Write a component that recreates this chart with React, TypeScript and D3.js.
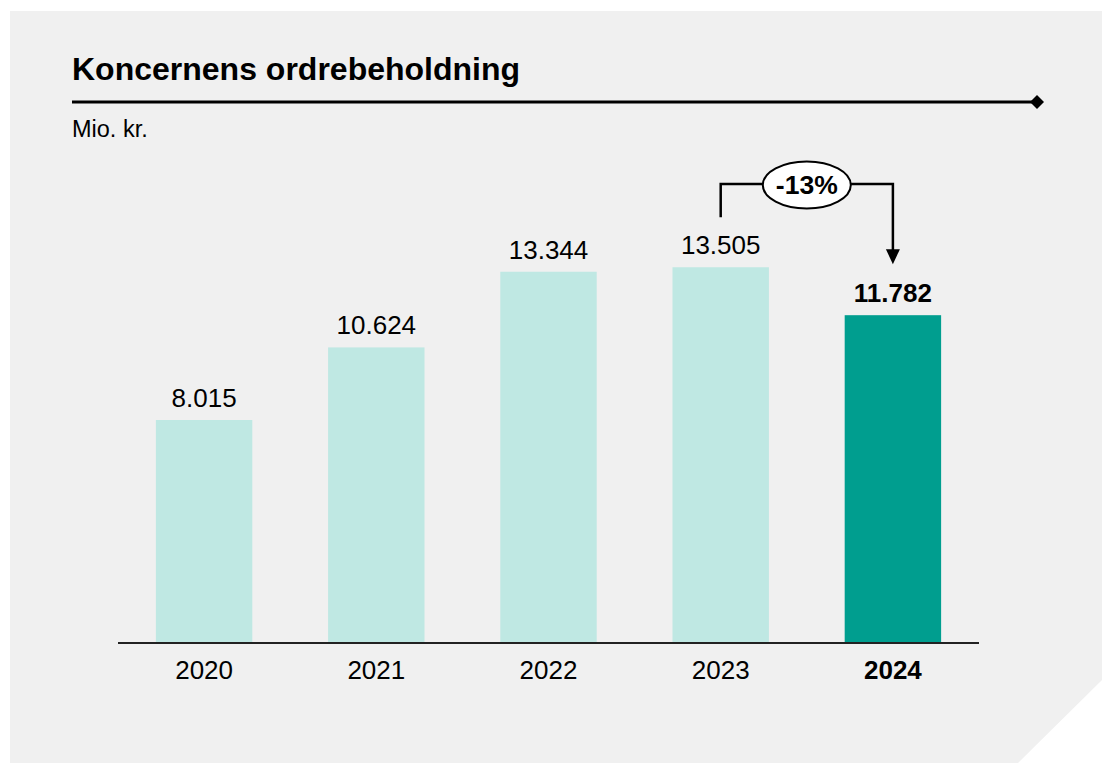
import React from 'react';
import * as d3 from 'd3';

const YEARS = ['2020', '2021', '2022', '2023', '2024'];
const VALUES = [8015, 10624, 13344, 13505, 11782];
const HIGHLIGHT = '2024';
const CHANGE_LABEL = '-13%';

const W = 1102;
const H = 763;
const FONT = 'Arial, "Liberation Sans", Helvetica, sans-serif';

const LIGHT = '#bfe8e3';
const DARK = '#009e8f';
const BG = '#f0f0f0';

// number format with dot as thousands separator (Danish style)
const fmt = (v: number) => d3.format(',')(v).replace(/,/g, '.');

export default function App() {
  const axisY = 643;
  const x = d3.scaleBand<string>()
    .domain(YEARS)
    .range([118, 979])
    .paddingInner(0.44)
    .paddingOuter(0.22);

  const y = d3.scaleLinear()
    .domain([0, 8015])
    .range([axisY, 420]);

  const bw = x.bandwidth();
  const cx = (yr: string) => (x(yr) as number) + bw / 2;

  // annotation between 2023 and 2024
  const fromX = cx('2023');
  const toX = cx('2024');
  const bracketY = 184;
  const ellX = (fromX + toX) / 2;
  const fromTop = y(VALUES[3]) - 50;
  const toTop = y(VALUES[4]) - 51;

  return (
    <div style={{ position: 'fixed', left: 0, top: 0 }}>
      <svg width={W} height={H} style={{ display: 'block', fontFamily: FONT }}>
        <rect width={W} height={H} fill="#ffffff" />
        <polygon
          points={`10,11 ${W},11 ${W},680 1018,${H} 10,${H}`}
          fill={BG}
        />

        <text x={72} y={80} fontSize={32} fontWeight={700} fill="#000">
          Koncernens ordrebeholdning
        </text>
        <line x1={72} x2={1034} y1={102} y2={102} stroke="#000" strokeWidth={3} />
        <path d="M1037,95 L1044,102 L1037,109 L1030,102 Z" fill="#000" />
        <text x={72} y={137} fontSize={23.5} fill="#000">Mio. kr.</text>

        {YEARS.map((yr, i) => {
          const v = VALUES[i];
          const hi = yr === HIGHLIGHT;
          return (
            <g key={yr}>
              <rect
                x={x(yr)}
                y={y(v)}
                width={bw}
                height={axisY - y(v)}
                fill={hi ? DARK : LIGHT}
              />
              <text
                x={cx(yr)}
                y={y(v) - 13}
                textAnchor="middle"
                fontSize={26}
                fontWeight={hi ? 700 : 400}
                fill="#000"
              >
                {fmt(v)}
              </text>
              <text
                x={cx(yr)}
                y={axisY + 36}
                textAnchor="middle"
                fontSize={26}
                fontWeight={hi ? 700 : 400}
                fill="#000"
              >
                {yr}
              </text>
            </g>
          );
        })}

        <line x1={118} x2={979} y1={axisY} y2={axisY} stroke="#222" strokeWidth={2} />

        {/* change annotation */}
        <path
          d={`M${fromX},${fromTop} V${bracketY} H${toX} V${toTop - 14}`}
          fill="none"
          stroke="#000"
          strokeWidth={2.5}
        />
        <path
          d={`M${toX - 7},${toTop - 15} L${toX + 7},${toTop - 15} L${toX},${toTop} Z`}
          fill="#000"
        />
        <ellipse cx={ellX} cy={bracketY + 1} rx={44} ry={23.5} fill="#fff" stroke="#000" strokeWidth={2} />
        <text
          x={ellX}
          y={bracketY + 10}
          textAnchor="middle"
          fontSize={26.5}
          fontWeight={700}
          fill="#000"
        >
          {CHANGE_LABEL}
        </text>
      </svg>
    </div>
  );
}
